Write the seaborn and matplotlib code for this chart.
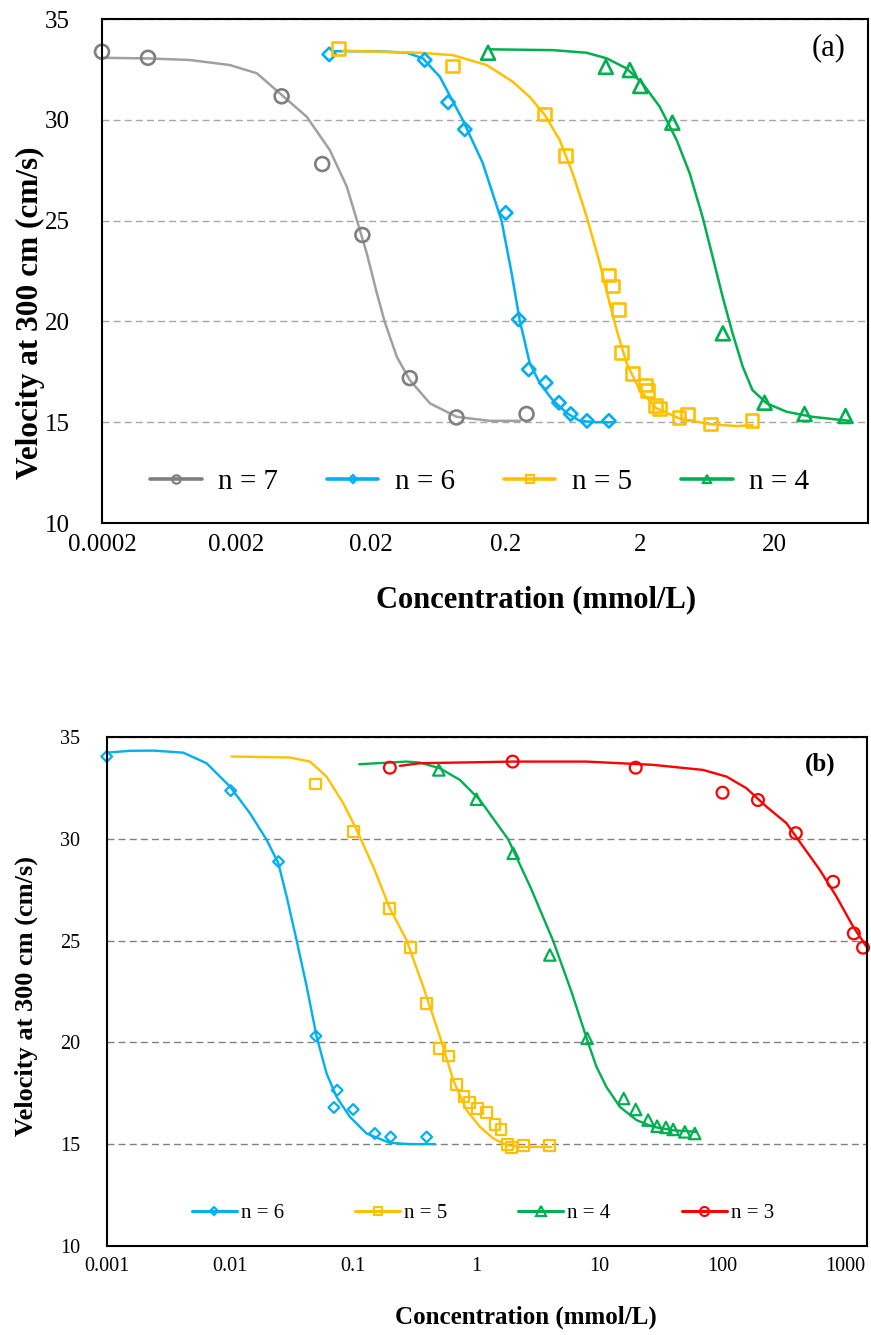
import matplotlib
matplotlib.use("Agg")
import matplotlib.pyplot as plt
from matplotlib.lines import Line2D
from matplotlib.ticker import NullLocator
import seaborn as sns

# ---------------- panel (a) ----------------
a_xticks = [0.0002, 0.002, 0.02, 0.2, 2, 20]
a_xticklabels = ["0.0002", "0.002", "0.02", "0.2", "2", "20"]

# measured points
a_n7_x = [0.0002, 0.00044, 0.00434, 0.0087, 0.0173, 0.039, 0.0867, 0.288]
a_n7_y = [33.38, 33.08, 31.17, 27.81, 24.29, 17.19, 15.24, 15.41]
a_n6_x = [0.0098, 0.0503, 0.0751, 0.100, 0.2018, 0.252, 0.299, 0.400, 0.502, 0.614, 0.811, 1.18]
a_n6_y = [33.25, 32.97, 30.87, 29.53, 25.39, 20.10, 17.62, 16.96, 15.97, 15.41, 15.07, 15.07]
a_n5_x = [0.01143, 0.0809, 0.394, 0.560, 1.18, 1.25, 1.40, 1.46, 1.78, 2.22, 2.28, 2.63, 2.82,
          3.92, 4.53, 6.75, 13.7]
a_n5_y = [33.55, 32.67, 30.29, 28.22, 22.30, 21.76, 20.60, 18.45, 17.43, 16.85, 16.56, 15.85, 15.69,
          15.24, 15.41, 14.91, 15.07]
a_n4_x = [0.149, 1.12, 1.69, 2.02, 3.50, 8.32, 17.0, 33.7, 68.0]
a_n4_y = [33.33, 32.63, 32.47, 31.68, 29.86, 19.41, 15.97, 15.41, 15.31]

# fitted curves
a_n7_fit_x = [0.0002, 0.00044, 0.000901, 0.00179, 0.00284, 0.00436, 0.00668, 0.00991, 0.01327,
              0.01574, 0.01866, 0.0222, 0.0254, 0.0312, 0.0390, 0.0550, 0.0871, 0.1535, 0.2565]
a_n7_fit_y = [33.08, 33.05, 32.97, 32.72, 32.31, 31.23, 30.15, 28.50, 26.68,
              25.03, 23.38, 21.39, 19.97, 18.25, 17.09, 15.94, 15.27, 15.07, 15.07]
a_n6_fit_x = [0.0108, 0.0233, 0.0371, 0.0488, 0.0652, 0.0966, 0.136, 0.188, 0.223, 0.256,
              0.304, 0.361, 0.451, 0.573, 0.716, 0.957, 1.30]
a_n6_fit_y = [33.41, 33.40, 33.33, 33.05, 32.14, 29.99, 27.86, 24.98, 22.40, 20.07,
              17.94, 16.94, 16.10, 15.46, 15.07, 15.00, 15.00]
a_n5_fit_x = [0.01239, 0.0462, 0.0815, 0.1455, 0.2276, 0.304, 0.394, 0.508, 0.635, 0.807,
              1.01, 1.197, 1.35, 1.60, 2.00, 2.67, 3.96, 6.62, 10.5, 13.8]
a_n5_fit_y = [33.43, 33.33, 33.21, 32.72, 31.89, 31.14, 30.24, 29.00, 27.35, 25.19,
              22.88, 20.90, 19.57, 17.92, 16.60, 15.69, 15.19, 14.91, 14.81, 14.86]
a_n4_fit_x = [0.1535, 0.451, 0.807, 1.14, 1.60, 2.10, 2.82, 3.77, 4.71, 5.87,
              6.98, 8.28, 9.82, 11.7, 13.8, 17.6, 24.8, 38.6, 72.8]
a_n4_fit_y = [33.50, 33.46, 33.33, 33.05, 32.55, 31.81, 30.65, 29.00, 27.35, 25.19,
              23.21, 21.23, 19.41, 17.75, 16.60, 15.94, 15.52, 15.27, 15.07]

# ---------------- panel (b) ----------------
b_xticks = [0.001, 0.01, 0.1, 1, 10, 100, 1000]
b_xticklabels = ["0.001", "0.01", "0.1", "1", "10", "100", "1000"]

b_n6_x = [0.001, 0.01017, 0.0249, 0.0501, 0.0746, 0.0702, 0.1007, 0.151, 0.203, 0.398]
b_n6_y = [34.05, 32.37, 28.88, 20.30, 17.64, 16.79, 16.69, 15.51, 15.34, 15.34]
b_n5_x = [0.0501, 0.1007, 0.200, 0.296, 0.398, 0.504, 0.596, 0.697, 0.80, 0.894, 1.026, 1.22,
          1.43, 1.60, 1.80, 1.95, 2.42, 3.99]
b_n5_y = [32.70, 30.35, 26.58, 24.67, 21.91, 19.69, 19.32, 17.94, 17.35, 17.02, 16.74, 16.53,
          15.97, 15.71, 14.99, 14.82, 14.94, 14.94]
b_n4_x = [0.50, 1.01, 2.01, 3.99, 8.02, 15.9, 19.9, 25.1, 29.7, 35.0, 40.1, 49.9, 60.1]
b_n4_y = [33.39, 31.95, 29.29, 24.29, 20.19, 17.23, 16.69, 16.17, 15.87, 15.81, 15.71, 15.59, 15.51]
b_n3_x = [0.200, 1.99, 19.9, 101, 196, 398, 800, 1178, 1400]
b_n3_y = [33.50, 33.80, 33.50, 32.27, 31.91, 30.28, 27.89, 25.35, 24.65]

b_n6_fit_x = [0.001, 0.001545, 0.00239, 0.00419, 0.00648, 0.01005, 0.01459, 0.01995, 0.0248,
              0.0290, 0.0349, 0.0422, 0.0508, 0.0612, 0.0738, 0.0946, 0.1294, 0.200, 0.291, 0.465]
b_n6_fit_y = [34.24, 34.33, 34.34, 34.24, 33.72, 32.57, 31.26, 29.95, 28.80,
              27.16, 25.02, 22.73, 20.27, 18.46, 17.31, 16.33, 15.51, 15.05, 14.99, 14.99]
b_n5_fit_x = [0.01035, 0.0308, 0.0449, 0.0612, 0.0836, 0.1074, 0.1466, 0.200, 0.2735, 0.373,
              0.510, 0.655, 0.840, 1.078, 1.381, 1.775, 2.28, 4.12]
b_n5_fit_y = [34.05, 34.00, 33.80, 33.06, 31.75, 30.44, 28.63, 26.58, 25.02, 22.73,
              20.27, 18.13, 16.66, 15.84, 15.27, 14.94, 14.85, 14.85]
b_n4_fit_x = [0.1127, 0.2735, 0.351, 0.510, 0.741, 1.078, 1.473, 1.83, 2.80, 4.25,
              5.98, 8.17, 9.55, 11.5, 14.8, 20.2, 27.5, 40.1, 62.1]
b_n4_fit_y = [33.67, 33.80, 33.75, 33.47, 32.90, 31.91, 30.77, 29.98, 27.57, 24.98,
              22.48, 19.97, 18.79, 17.80, 16.82, 16.17, 15.84, 15.67, 15.59]
b_n3_fit_x = [0.2415, 0.351, 2.01, 7.93, 27.5, 70.2, 109, 158, 230, 334, 456, 624, 851, 1164, 1493]
b_n3_fit_y = [33.59, 33.72, 33.80, 33.80, 33.64, 33.39, 33.06, 32.49, 31.58, 30.77,
              29.62, 28.47, 27.16, 25.68, 24.70]

GREY_M, GREY_L = "#7f7f7f", "#a0a0a0"
BLUE, YELLOW, GREEN, RED = "#00b0f0", "#ffc000", "#00b050", "#ff0000"


def draw_series(ax, fx, fy, mx, my, mcolor, lcolor, marker, ms, lw, mew):
    sns.lineplot(x=fx, y=fy, ax=ax, color=lcolor, linewidth=lw, estimator=None, sort=False, zorder=2)
    sns.scatterplot(x=mx, y=my, ax=ax, marker=marker, s=ms ** 2, facecolor="none",
                    edgecolor=mcolor, linewidth=mew, clip_on=False, zorder=3, legend=False)


def style_axes(ax, xlim, xticks, xticklabels, tick_fs, ypad, xpad, tick_len, grid_color):
    ax.set_xscale("log")
    ax.set_xlim(*xlim)
    ax.set_ylim(10, 35)
    ax.set_xticks(xticks)
    ax.set_xticklabels(xticklabels)
    ax.xaxis.set_minor_locator(NullLocator())
    ax.set_yticks([10, 15, 20, 25, 30, 35])
    ax.tick_params(axis="both", direction="in", length=tick_len, width=1.4,
                   labelsize=tick_fs, colors="black")
    ax.tick_params(axis="y", pad=ypad)
    ax.tick_params(axis="x", pad=xpad)
    ax.yaxis.grid(True, linestyle=(0, (5, 3)), color=grid_color, linewidth=1.0)
    ax.xaxis.grid(False)
    ax.set_axisbelow(True)
    for sp in ax.spines.values():
        sp.set_visible(True)
        sp.set_color("black")
        sp.set_linewidth(1.5)
        sp.set_zorder(4)


sns.set_theme(style="white")
plt.rcParams["font.family"] = ["Liberation Serif", "DejaVu Serif"]
plt.rcParams["text.color"] = "black"
plt.rcParams["axes.labelcolor"] = "black"
plt.rcParams["xtick.color"] = "black"
plt.rcParams["ytick.color"] = "black"

fig = plt.figure(figsize=(8.71, 13.35), dpi=100)
ax_a = fig.add_axes([0.1171, 0.6082, 0.8795, 0.3775])
ax_b = fig.add_axes([0.1225, 0.0670, 0.8726, 0.3808])

# panel (a)
style_axes(ax_a, (0.0002, 100), a_xticks, a_xticklabels, 18, 23, 8, 6, "#a6a6a6")
draw_series(ax_a, a_n7_fit_x, a_n7_fit_y, a_n7_x, a_n7_y, GREY_M, GREY_L, "o", 10, 1.8, 1.9)
draw_series(ax_a, a_n6_fit_x, a_n6_fit_y, a_n6_x, a_n6_y, BLUE, BLUE, "D", 6.8, 1.8, 1.9)
draw_series(ax_a, a_n5_fit_x, a_n5_fit_y, a_n5_x, a_n5_y, YELLOW, YELLOW, "s", 9.2, 1.8, 1.9)
draw_series(ax_a, a_n4_fit_x, a_n4_fit_y, a_n4_x, a_n4_y, GREEN, GREEN, "^", 10, 1.8, 1.9)

ax_a.set_xlabel("Concentration (mmol/L)", fontsize=22, fontweight="bold", color="black")
ax_a.xaxis.set_label_coords(0.567, -0.153)
ax_a.xaxis.label.set_va("center")
ax_a.set_ylabel("Velocity at 300 cm (cm/s)", fontsize=22.5, fontweight="bold", color="black")
ax_a.yaxis.set_label_coords(-0.094, 0.417)
ax_a.yaxis.label.set_va("center")
ax_a.text(0.949, 0.9425, "(a)", transform=ax_a.transAxes, fontsize=22,
          ha="center", va="center", color="black")

handles_a = [
    Line2D([], [], color=GREY_M, lw=2.6, marker="o", ms=6, mfc="none", mec=GREY_M, mew=1.6),
    Line2D([], [], color=BLUE, lw=2.6, marker="D", ms=4.5, mfc="none", mec=BLUE, mew=1.6),
    Line2D([], [], color=YELLOW, lw=2.6, marker="s", ms=5.5, mfc="none", mec=YELLOW, mew=1.6),
    Line2D([], [], color=GREEN, lw=2.6, marker="^", ms=6, mfc="none", mec=GREEN, mew=1.6),
]
ax_a.legend(handles_a, ["n = 7", "n = 6", "n = 5", "n = 4"], ncol=4, frameon=False,
            loc="center", bbox_to_anchor=(0.4935, 0.082), fontsize=21,
            handlelength=1.75, handletextpad=0.58, columnspacing=1.68, borderaxespad=0)

# panel (b)
style_axes(ax_b, (0.001, 1500), b_xticks, b_xticklabels, 14.5, 19, 8.5, 5, "#808080")
draw_series(ax_b, b_n6_fit_x, b_n6_fit_y, b_n6_x, b_n6_y, BLUE, BLUE, "D", 5.5, 1.7, 1.6)
draw_series(ax_b, b_n5_fit_x, b_n5_fit_y, b_n5_x, b_n5_y, YELLOW, YELLOW, "s", 7.8, 1.7, 1.6)
draw_series(ax_b, b_n4_fit_x, b_n4_fit_y, b_n4_x, b_n4_y, GREEN, GREEN, "^", 8.2, 1.7, 1.6)
draw_series(ax_b, b_n3_fit_x, b_n3_fit_y, b_n3_x, b_n3_y, RED, RED, "o", 8.5, 1.7, 1.6)

ax_b.set_xlabel("Concentration (mmol/L)", fontsize=18, fontweight="bold", color="black")
ax_b.xaxis.set_label_coords(0.552, -0.1405)
ax_b.xaxis.label.set_va("center")
ax_b.set_ylabel("Velocity at 300 cm (cm/s)", fontsize=19, fontweight="bold", color="black")
ax_b.yaxis.set_label_coords(-0.1055, 0.491)
ax_b.yaxis.label.set_va("center")
ax_b.text(0.9386, 0.9475, "(b)", transform=ax_b.transAxes, fontsize=18,
          fontweight="bold", ha="center", va="center", color="black")

handles_b = [
    Line2D([], [], color=BLUE, lw=2.2, marker="D", ms=4.5, mfc="none", mec=BLUE, mew=1.5),
    Line2D([], [], color=YELLOW, lw=2.2, marker="s", ms=6, mfc="none", mec=YELLOW, mew=1.5),
    Line2D([], [], color=GREEN, lw=2.2, marker="^", ms=6.5, mfc="none", mec=GREEN, mew=1.5),
    Line2D([], [], color=RED, lw=2.2, marker="o", ms=6.5, mfc="none", mec=RED, mew=1.5),
]
ax_b.legend(handles_b, ["n = 6", "n = 5", "n = 4", "n = 3"], ncol=4, frameon=False,
            loc="center", bbox_to_anchor=(0.495, 0.064), fontsize=15,
            handlelength=2.16, handletextpad=0.2, columnspacing=3.4, borderaxespad=0)

fig.savefig("out.png", dpi=100)
